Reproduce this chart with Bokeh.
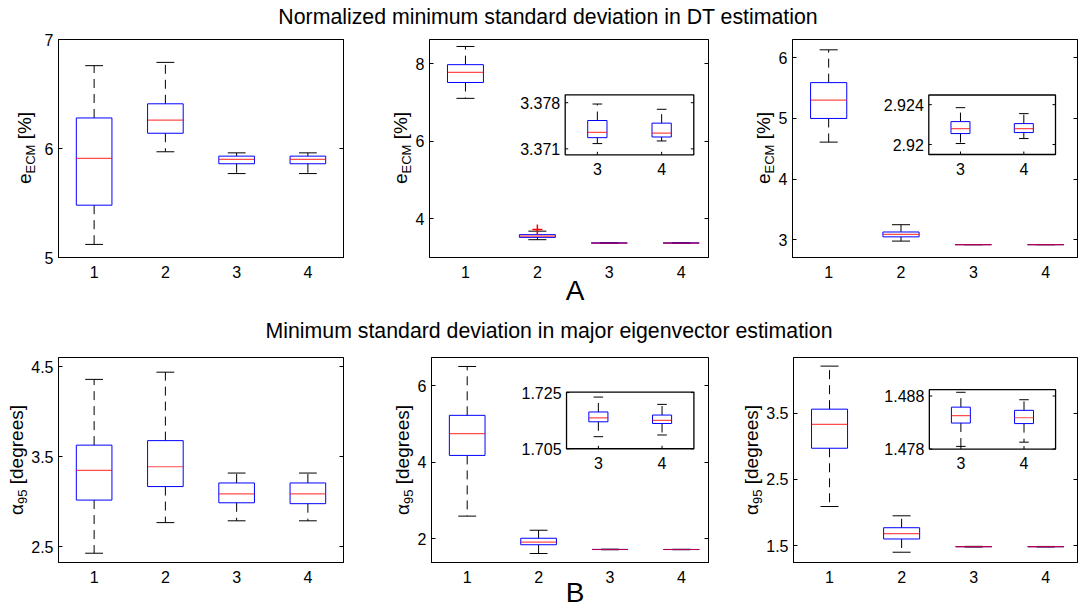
import numpy as np
from bokeh.plotting import figure
from bokeh.models import Range1d, LinearAxis, FixedTicker, CustomJSTickFormatter, ColumnDataSource, Div
from bokeh.layouts import column, row
from bokeh.core.properties import value
from bokeh.embed import file_html
from bokeh.resources import INLINE

FONT = "Liberation Sans"

# ---------------- data ----------------
groups = [1, 2, 3, 4]
group_labels = ["1", "2", "3", "4"]
inset_groups = [3, 4]
inset_group_labels = ["3", "4"]

title_a = "Normalized minimum standard deviation in DT estimation"
title_b = "Minimum standard deviation in major eigenvector estimation"
tag_a = "A"
tag_b = "B"
e_label = ("e", "ECM", " [%]")
alpha_label = ("α", "95", " [degrees]")

# A, left panel
a1_q1 = [5.48, 6.14, 5.86, 5.86]
a1_med = [5.91, 6.26, 5.90, 5.90]
a1_q3 = [6.28, 6.41, 5.93, 5.93]
a1_lo = [5.12, 5.97, 5.77, 5.77]
a1_hi = [6.76, 6.79, 5.96, 5.96]
a1_yticks = [5, 6, 7]
a1_ylabels = ["5", "6", "7"]

# A, middle panel
a2_q1 = [7.52, 3.52, 3.3727, 3.3728]
a2_med = [7.78, 3.55, 3.3735, 3.3734]
a2_q3 = [7.98, 3.59, 3.3753, 3.3749]
a2_lo = [7.11, 3.46, 3.3718, 3.3722]
a2_hi = [8.45, 3.68, 3.3778, 3.3770]
a2_out_x = [2]
a2_out_y = [3.72]
a2_yticks = [4, 6, 8]
a2_ylabels = ["4", "6", "8"]
a2_inset_yticks = [3.371, 3.378]
a2_inset_ylabels = ["3.371", "3.378"]

# A, right panel
a3_q1 = [5.00, 3.05, 2.9211, 2.9212]
a3_med = [5.30, 3.09, 2.9216, 2.9216]
a3_q3 = [5.59, 3.13, 2.9223, 2.9221]
a3_lo = [4.61, 2.98, 2.9201, 2.9206]
a3_hi = [6.13, 3.25, 2.9237, 2.9231]
a3_yticks = [3, 4, 5, 6]
a3_ylabels = ["3", "4", "5", "6"]
a3_inset_yticks = [2.92, 2.924]
a3_inset_ylabels = ["2.92", "2.924"]

# B, left panel
b1_q1 = [3.02, 3.17, 2.99, 2.98]
b1_med = [3.35, 3.39, 3.09, 3.09]
b1_q3 = [3.63, 3.68, 3.21, 3.21]
b1_lo = [2.43, 2.77, 2.79, 2.79]
b1_hi = [4.36, 4.44, 3.32, 3.32]
b1_yticks = [2.5, 3.5, 4.5]
b1_ylabels = ["2.5", "3.5", "4.5"]

# B, middle panel
b2_q1 = [4.18, 1.84, 1.7146, 1.7140]
b2_med = [4.75, 1.91, 1.7160, 1.7151]
b2_q3 = [5.23, 2.01, 1.7181, 1.7170]
b2_lo = [2.59, 1.61, 1.7093, 1.7099]
b2_hi = [6.51, 2.22, 1.7234, 1.7208]
b2_yticks = [2, 4, 6]
b2_ylabels = ["2", "4", "6"]
b2_inset_yticks = [1.705, 1.725]
b2_inset_ylabels = ["1.705", "1.725"]

# B, right panel
b3_q1 = [2.97, 1.60, 1.4829, 1.4828]
b3_med = [3.33, 1.68, 1.4843, 1.4839]
b3_q3 = [3.56, 1.77, 1.4859, 1.4853]
b3_lo = [2.09, 1.40, 1.4785, 1.4793]
b3_hi = [4.21, 1.95, 1.4887, 1.4873]
b3_yticks = [1.5, 2.5, 3.5]
b3_ylabels = ["1.5", "2.5", "3.5"]
b3_inset_yticks = [1.478, 1.488]
b3_inset_ylabels = ["1.478", "1.488"]


# ---------------- helpers ----------------
def draw_boxes(p, xs, q1, med, q3, lo, hi, bw, cw, **rn):
    xs = np.asarray(xs, float)
    q1, med, q3, lo, hi = (np.asarray(a, float) for a in (q1, med, q3, lo, hi))
    src = ColumnDataSource(dict(x=xs, l=xs - bw / 2, r=xs + bw / 2, cl=xs - cw / 2, cr=xs + cw / 2,
                                q1=q1, med=med, q3=q3, lo=lo, hi=hi))
    p.segment(x0="x", y0="q3", x1="x", y1="hi", source=src, line_color="black", line_width=1,
              line_dash="9 6", **rn)
    p.segment(x0="x", y0="q1", x1="x", y1="lo", source=src, line_color="black", line_width=1,
              line_dash="9 6", **rn)
    p.segment(x0="cl", y0="hi", x1="cr", y1="hi", source=src, line_color="black", line_width=1, **rn)
    p.segment(x0="cl", y0="lo", x1="cr", y1="lo", source=src, line_color="black", line_width=1, **rn)
    p.quad(left="l", right="r", bottom="q1", top="q3", source=src, fill_color=None,
           line_color="#0000ff", line_width=1, **rn)
    p.segment(x0="l", y0="med", x1="r", y1="med", source=src, line_color="#ff0000",
              line_alpha=0.7, line_width=1.2, **rn)


def make_panel(width, height, bl, br, bt, bb, xend, ylim, yticks, ylabels, d):
    p = figure(width=width, height=height, x_range=Range1d(0.5, xend), y_range=Range1d(*ylim),
               toolbar_location=None, output_backend="svg", title=None,
               min_border_left=bl, min_border_right=br, min_border_top=bt, min_border_bottom=bb)
    p.xgrid.visible = False
    p.ygrid.visible = False
    p.outline_line_color = "black"
    p.outline_line_width = 1
    p.background_fill_color = "white"
    p.border_fill_color = "white"

    xa = p.xaxis[0]
    xa.ticker = FixedTicker(ticks=groups)
    xa.major_label_overrides = dict(zip(groups, group_labels))
    xa.major_tick_line_color = None
    xa.minor_tick_line_color = None
    xa.major_label_standoff = 2
    xa.axis_line_color = "black"
    xa.major_label_text_font = FONT
    xa.major_label_text_font_size = "16px"
    xa.major_label_text_color = "black"

    ya = p.yaxis[0]
    ya.ticker = FixedTicker(ticks=yticks)
    ya.major_label_overrides = dict(zip(yticks, ylabels))
    ya.major_tick_in = 4
    ya.major_tick_out = 0
    ya.minor_tick_line_color = None
    ya.major_label_standoff = 5
    ya.axis_line_color = "black"
    ya.major_label_text_font = FONT
    ya.major_label_text_font_size = "16px"
    ya.major_label_text_color = "black"

    ra = LinearAxis(ticker=FixedTicker(ticks=yticks), formatter=CustomJSTickFormatter(code="return ''"),
                    major_tick_in=4, major_tick_out=0, minor_tick_line_color=None,
                    major_label_standoff=0, axis_line_color="black")
    p.add_layout(ra, "right")

    draw_boxes(p, groups, d["q1"], d["med"], d["q3"], d["lo"], d["hi"], 0.5, 0.25)
    return p


def add_inset(p, fw, fh, box, xlim, ylim, yticks, ylabels, d):
    ix0, iy0, ix1, iy1 = box
    sx = (ix1 - ix0) / (xlim[1] - xlim[0])
    sy = (iy1 - iy0) / (ylim[1] - ylim[0])
    p.extra_x_ranges = {"ix": Range1d(xlim[0] - ix0 / sx, xlim[1] + (fw - ix1) / sx)}
    p.extra_y_ranges = {"iy": Range1d(ylim[0] - (fh - iy1) / sy, ylim[1] + iy0 / sy)}
    rn = dict(x_range_name="ix", y_range_name="iy")
    p.quad(left=[xlim[0]], right=[xlim[1]], bottom=[ylim[0]], top=[ylim[1]],
           fill_color="white", line_color="black", line_width=1.3, **rn)
    draw_boxes(p, inset_groups, d["q1"][2:], d["med"][2:], d["q3"][2:], d["lo"][2:], d["hi"][2:],
               0.3, 0.15, **rn)
    tl = 3.0
    n = len(yticks)
    p.segment(x0=[xlim[0]] * n, x1=[xlim[0] + tl / sx] * n, y0=yticks, y1=yticks,
              line_color="black", line_width=1, **rn)
    p.segment(x0=[xlim[1] - tl / sx] * n, x1=[xlim[1]] * n, y0=yticks, y1=yticks,
              line_color="black", line_width=1, **rn)
    m = len(inset_groups)
    p.segment(x0=inset_groups, x1=inset_groups, y0=[ylim[0]] * m, y1=[ylim[0] + tl / sy] * m,
              line_color="black", line_width=1, **rn)
    p.text(x=[xlim[0]] * n, y=yticks, text=ylabels, x_offset=-5, text_align="right",
           text_baseline="middle", text_font=value(FONT), text_font_size="16px",
           text_color="black", **rn)
    p.text(x=inset_groups, y=[ylim[0]] * m, text=inset_group_labels, y_offset=8, text_align="center",
           text_baseline="top", text_font=value(FONT), text_font_size="16px",
           text_color="black", **rn)


FONT_CSS = "font-family:'Liberation Sans',Arial,sans-serif;line-height:1;color:#000;white-space:nowrap;"
BASE = 0.8465  # baseline offset from box top for line-height 1 (Liberation Sans)


def ylabel_div(width, height, parts, bx, cy, fs=19, sub_fs=13, sub_shift=4):
    html = (f'{parts[0]}<sub style="font-size:{sub_fs}px;vertical-align:-{sub_shift}px;line-height:0">'
            f'{parts[1]}</sub>{parts[2]}')
    bo = BASE * fs
    inner = (f'<div style="position:absolute;left:0;top:0;transform-origin:0 0;'
             f'transform:translate({bx}px,{cy}px) rotate(-90deg) translate(-50%,-{bo:.2f}px);'
             f'{FONT_CSS}font-size:{fs}px">{html}</div>')
    return Div(text=inner, width=width, height=height, margin=0,
               styles={"position": "relative", "overflow": "visible"})


def strip_div(width, height, items):
    parts = []
    for txt, cx, by, fs in items:
        top = by - BASE * fs
        parts.append(f'<div style="position:absolute;left:{cx}px;top:{top:.2f}px;'
                     f'transform:translateX(-50%);{FONT_CSS}font-size:{fs}px">{txt}</div>')
    return Div(text="".join(parts), width=width, height=height, margin=0,
               styles={"position": "relative", "overflow": "visible"})


D = lambda q1, med, q3, lo, hi: dict(q1=q1, med=med, q3=q3, lo=lo, hi=hi)

# ---------------- top row (height 250, frame 218) ----------------
H1 = 250
pa1 = make_panel(320, H1, 20, 15, 9, 23, 4.5, (5, 7), a1_yticks, a1_ylabels,
                 D(a1_q1, a1_med, a1_q3, a1_lo, a1_hi))
pa2 = make_panel(310, H1, 17, 14, 9, 23, 4.38, (3.0, 8.63), a2_yticks, a2_ylabels,
                 D(a2_q1, a2_med, a2_q3, a2_lo, a2_hi))
pa2.scatter(x=a2_out_x, y=a2_out_y, marker="cross", size=10, line_color="#ff0000", line_width=1.5)
add_inset(pa2, 279, 218, (135.7, 55.3, 264.3, 115.3), (2.5, 4.5), (3.3701, 3.3792),
          a2_inset_yticks, a2_inset_ylabels, D(a2_q1, a2_med, a2_q3, a2_lo, a2_hi))
pa3 = make_panel(305, H1, 17, 3, 9, 23, 4.44, (2.71, 6.30), a3_yticks, a3_ylabels,
                 D(a3_q1, a3_med, a3_q3, a3_lo, a3_hi))
add_inset(pa3, 285, 218, (136.3, 55.5, 263, 115), (2.5, 4.5), (2.919, 2.92497),
          a3_inset_yticks, a3_inset_ylabels, D(a3_q1, a3_med, a3_q3, a3_lo, a3_hi))

cy1 = 9 + 218 / 2
la1 = ylabel_div(38, H1, e_label, 31, cy1)
la2 = ylabel_div(54, H1, e_label, 49, cy1)
la3 = ylabel_div(53, H1, e_label, 48, cy1)

# ---------------- bottom row (height 240, frame 206) ----------------
H2 = 240
pb1 = make_panel(330, H2, 30, 15, 12, 22, 4.5, (2.327, 4.603), b1_yticks, b1_ylabels,
                 D(b1_q1, b1_med, b1_q3, b1_lo, b1_hi))
pb2 = make_panel(308, H2, 15, 14, 12, 22, 4.38, (1.375, 6.745), b2_yticks, b2_ylabels,
                 D(b2_q1, b2_med, b2_q3, b2_lo, b2_hi))
add_inset(pb2, 279, 206, (136, 34.7, 264.3, 91.7), (2.5, 4.5), (1.705, 1.7252),
          b2_inset_yticks, b2_inset_ylabels, D(b2_q1, b2_med, b2_q3, b2_lo, b2_hi))
pb3 = make_panel(317, H2, 29, 3, 12, 22, 4.44, (1.245, 4.34), b3_yticks, b3_ylabels,
                 D(b3_q1, b3_med, b3_q3, b3_lo, b3_hi))
add_inset(pb3, 285, 206, (136.3, 32.3, 263, 92), (2.5, 4.5), (1.478, 1.4892),
          b3_inset_yticks, b3_inset_ylabels, D(b3_q1, b3_med, b3_q3, b3_lo, b3_hi))

cy2 = 12 + 206 / 2
lb1 = ylabel_div(28, H2, alpha_label, 23, cy2)
lb2 = ylabel_div(56, H2, alpha_label, 51, cy2)
lb3 = ylabel_div(41, H2, alpha_label, 36, cy2)

# ---------------- text strips ----------------
h1 = strip_div(1080, 30, [(title_a, 548, 25, 21.3)])
h2 = strip_div(1080, 65, [(tag_a, 575, 21, 28), (title_b, 549, 59, 21.3)])
h3 = strip_div(1080, 22, [(tag_b, 575, 17.5, 28)])

layout = column(
    h1,
    row(la1, pa1, la2, pa2, la3, pa3, spacing=0),
    h2,
    row(lb1, pb1, lb2, pb2, lb3, pb3, spacing=0),
    h3,
    spacing=0,
)

open("out.html", "w").write(file_html(layout, INLINE, title="boxplots"))
